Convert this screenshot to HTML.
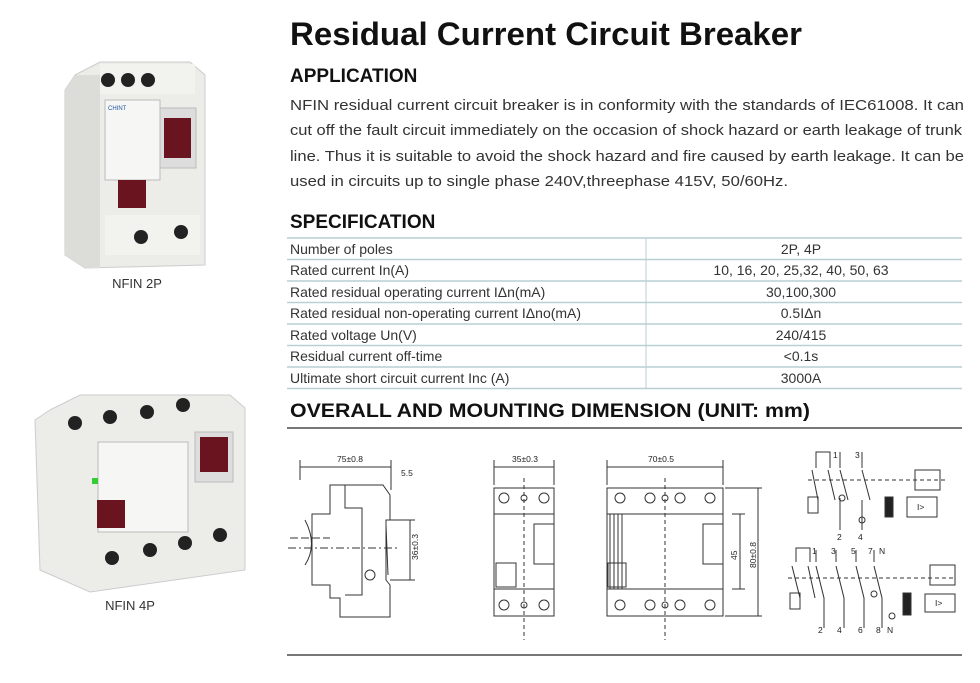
<!DOCTYPE html>
<html><head><meta charset="utf-8"><style>
html,body{margin:0;padding:0;background:#fff;width:980px;height:683px;overflow:hidden}
svg text{font-family:"Liberation Sans",sans-serif}
</style></head><body>
<svg width="980" height="683" viewBox="0 0 980 683" xmlns="http://www.w3.org/2000/svg">
<rect width="980" height="683" fill="#fff"/>
<text x="290" y="45" font-size="32" font-weight="bold" fill="#111" textLength="512" lengthAdjust="spacingAndGlyphs">Residual Current Circuit Breaker</text>
<text x="290" y="82" font-size="19" font-weight="bold" fill="#111">APPLICATION</text>
<g font-size="14.5" fill="#333">
<text x="290" y="110" textLength="674" lengthAdjust="spacingAndGlyphs">NFIN residual current circuit breaker is in conformity with the standards of IEC61008. It can</text>
<text x="290" y="135" textLength="672" lengthAdjust="spacingAndGlyphs">cut off the fault circuit immediately on the occasion of shock hazard or earth leakage of trunk</text>
<text x="290" y="161" textLength="674" lengthAdjust="spacingAndGlyphs">line. Thus it is suitable to avoid the shock hazard and fire caused by earth leakage.  It can be</text>
<text x="290" y="186" textLength="498" lengthAdjust="spacingAndGlyphs">used in circuits up to single phase 240V,threephase 415V, 50/60Hz.</text>
</g>
<text x="290" y="228" font-size="19" font-weight="bold" fill="#111">SPECIFICATION</text>
<g stroke="#b9cfd6" stroke-width="1.5">
<line x1="287" y1="238" x2="962" y2="238"/>
<line x1="287" y1="259.5" x2="962" y2="259.5"/>
<line x1="287" y1="281" x2="962" y2="281"/>
<line x1="287" y1="302.5" x2="962" y2="302.5"/>
<line x1="287" y1="324" x2="962" y2="324"/>
<line x1="287" y1="345.5" x2="962" y2="345.5"/>
<line x1="287" y1="367" x2="962" y2="367"/>
<line x1="287" y1="388.5" x2="962" y2="388.5"/>
<line x1="646" y1="238" x2="646" y2="388" stroke-width="1"/>
</g>
<g font-size="14" fill="#333">
<text x="290" y="254">Number of poles</text>
<text x="290" y="275">Rated current In(A)</text>
<text x="290" y="297">Rated residual operating current IΔn(mA)</text>
<text x="290" y="318">Rated residual non-operating current IΔno(mA)</text>
<text x="290" y="340">Rated voltage Un(V)</text>
<text x="290" y="361">Residual current off-time</text>
<text x="290" y="383">Ultimate short circuit current Inc (A)</text>
</g>
<g font-size="14" fill="#333" text-anchor="middle">
<text x="801" y="254">2P, 4P</text>
<text x="801" y="275">10, 16, 20, 25,32, 40, 50, 63</text>
<text x="801" y="297">30,100,300</text>
<text x="801" y="318">0.5IΔn</text>
<text x="801" y="340">240/415</text>
<text x="801" y="361">&lt;0.1s</text>
<text x="801" y="383">3000A</text>
</g>
<text x="290" y="417" font-size="19" font-weight="bold" fill="#111" textLength="520" lengthAdjust="spacingAndGlyphs">OVERALL AND MOUNTING DIMENSION (UNIT: mm)</text>
<line x1="287" y1="428" x2="962" y2="428" stroke="#777" stroke-width="2"/>
<line x1="287" y1="655" x2="962" y2="655" stroke="#777" stroke-width="2"/>

<!-- 2P product -->
<g>
<polygon points="75,75 100,62 190,62 205,75 205,265 85,268 65,255 65,90" fill="#ecece9" stroke="#ccc"/>
<polygon points="65,90 75,75 100,75 100,268 85,268 65,255" fill="#dcdcd8"/>
<rect x="100" y="64" width="95" height="30" fill="#f2f2ef"/>
<circle cx="108" cy="80" r="7" fill="#222"/><circle cx="128" cy="80" r="7" fill="#222"/><circle cx="148" cy="80" r="7" fill="#222"/>
<rect x="105" y="100" width="55" height="80" fill="#f6f6f4" stroke="#bbb"/>
<text x="108" y="110" font-size="6" fill="#2255aa">CHINT</text>
<rect x="160" y="108" width="36" height="60" fill="#ddd" stroke="#bbb"/>
<rect x="164" y="118" width="27" height="40" fill="#6a1420"/>
<rect x="118" y="180" width="28" height="28" fill="#6a1420"/>
<rect x="105" y="215" width="95" height="40" fill="#f2f2ef"/>
<circle cx="141" cy="237" r="7" fill="#222"/><circle cx="181" cy="232" r="7" fill="#222"/>
</g>
<text x="137" y="288" font-size="13" fill="#333" text-anchor="middle">NFIN 2P</text>

<!-- 4P product -->
<g>
<polygon points="50,410 80,395 230,395 245,408 245,570 90,592 40,570 35,420" fill="#ecece9" stroke="#ccc"/>
<circle cx="75" cy="423" r="7" fill="#222"/><circle cx="110" cy="417" r="7" fill="#222"/><circle cx="147" cy="412" r="7" fill="#222"/><circle cx="183" cy="405" r="7" fill="#222"/>
<rect x="98" y="442" width="90" height="90" fill="#f6f6f4" stroke="#bbb"/>
<rect x="195" y="432" width="38" height="50" fill="#ddd" stroke="#bbb"/>
<rect x="200" y="437" width="28" height="35" fill="#6a1420"/>
<rect x="97" y="500" width="28" height="28" fill="#6a1420"/>
<rect x="92" y="478" width="6" height="6" fill="#3c3"/>
<circle cx="112" cy="558" r="7" fill="#222"/><circle cx="150" cy="550" r="7" fill="#222"/><circle cx="185" cy="543" r="7" fill="#222"/><circle cx="220" cy="535" r="7" fill="#222"/>
</g>
<text x="130" y="610" font-size="13" fill="#333" text-anchor="middle">NFIN 4P</text>

<g stroke="#333" stroke-width="1" fill="none" font-size="8">
<!-- side view -->
<line x1="300" y1="467" x2="391" y2="467"/><line x1="300" y1="460" x2="300" y2="480"/><line x1="391" y1="460" x2="391" y2="490"/>
<polygon points="330,485 383,485 390,495 390,520 386,520 386,580 390,585 390,617 340,617 340,598 330,598 330,585 312,585 312,514 330,514"/>
<polyline points="345,485 345,508 362,508 362,595 345,595"/>
<line x1="386" y1="525" x2="388" y2="575"/>
<line x1="288" y1="548" x2="400" y2="548" stroke-dasharray="8,3,2,3"/>
<line x1="290" y1="538" x2="330" y2="538" stroke-dasharray="8,3"/>
<path d="M305,520 Q318,545 305,565"/>
<circle cx="370" cy="575" r="5"/>
<line x1="410" y1="520" x2="410" y2="580"/>
<line x1="390" y1="520" x2="415" y2="520"/><line x1="390" y1="580" x2="415" y2="580"/>
<!-- 2P front -->
<rect x="494" y="488" width="60" height="128"/>
<line x1="494" y1="514" x2="554" y2="514"/><line x1="494" y1="589" x2="554" y2="589"/>
<line x1="494" y1="467" x2="554" y2="467"/><line x1="494" y1="460" x2="494" y2="485"/><line x1="554" y1="460" x2="554" y2="485"/>
<circle cx="504" cy="498" r="5"/><circle cx="524" cy="498" r="3"/><circle cx="544" cy="498" r="5"/>
<circle cx="504" cy="605" r="5"/><circle cx="524" cy="605" r="3"/><circle cx="544" cy="605" r="5"/>
<rect x="534" y="524" width="20" height="40"/><rect x="496" y="563" width="20" height="24"/>
<line x1="524" y1="478" x2="524" y2="640" stroke-dasharray="4,3"/>
<!-- 4P front -->
<rect x="607" y="488" width="116" height="128"/>
<line x1="607" y1="514" x2="723" y2="514"/><line x1="607" y1="589" x2="723" y2="589"/>
<line x1="607" y1="467" x2="723" y2="467"/><line x1="607" y1="460" x2="607" y2="485"/><line x1="723" y1="460" x2="723" y2="485"/>
<circle cx="620" cy="498" r="5"/><circle cx="650" cy="498" r="5"/><circle cx="665" cy="498" r="3"/><circle cx="680" cy="498" r="5"/><circle cx="710" cy="498" r="5"/>
<circle cx="620" cy="605" r="5"/><circle cx="650" cy="605" r="5"/><circle cx="665" cy="605" r="3"/><circle cx="680" cy="605" r="5"/><circle cx="710" cy="605" r="5"/>
<rect x="703" y="524" width="20" height="40"/><rect x="608" y="563" width="18" height="24"/>
<line x1="610" y1="514" x2="610" y2="589"/><line x1="614" y1="514" x2="614" y2="589"/><line x1="618" y1="514" x2="618" y2="589"/><line x1="622" y1="514" x2="622" y2="589"/>
<line x1="665" y1="478" x2="665" y2="640" stroke-dasharray="4,3"/>
<line x1="740" y1="514" x2="740" y2="589"/><line x1="732" y1="514" x2="745" y2="514"/><line x1="732" y1="589" x2="745" y2="589"/>
<line x1="758" y1="488" x2="758" y2="616"/><line x1="725" y1="488" x2="762" y2="488"/><line x1="725" y1="616" x2="762" y2="616"/>
<!-- schematic 2P -->
<polyline points="816,468 816,452 830,452 830,468"/>
<line x1="840" y1="452" x2="840" y2="468"/><line x1="862" y1="452" x2="862" y2="468"/>
<line x1="812" y1="470" x2="818" y2="500"/><line x1="828" y1="470" x2="835" y2="500"/><line x1="840" y1="470" x2="848" y2="500"/><line x1="862" y1="470" x2="870" y2="500"/>
<line x1="808" y1="480" x2="945" y2="480" stroke-dasharray="4,3"/>
<rect x="808" y="497" width="10" height="16"/>
<circle cx="842" cy="498" r="3"/><circle cx="862" cy="520" r="3"/>
<line x1="840" y1="498" x2="840" y2="530"/><line x1="862" y1="500" x2="862" y2="530"/>
<rect x="885" y="497" width="8" height="20" fill="#222"/>
<rect x="907" y="497" width="30" height="20"/>
<rect x="915" y="470" width="25" height="20"/>
<!-- schematic 4P -->
<polyline points="796,562 796,548 810,548 810,562"/>
<line x1="816" y1="550" x2="816" y2="562"/><line x1="836" y1="550" x2="836" y2="562"/><line x1="856" y1="550" x2="856" y2="562"/><line x1="874" y1="550" x2="874" y2="562"/>
<line x1="792" y1="566" x2="800" y2="598"/><line x1="808" y1="566" x2="815" y2="598"/><line x1="816" y1="566" x2="824" y2="598"/><line x1="836" y1="566" x2="844" y2="598"/><line x1="856" y1="566" x2="864" y2="598"/><line x1="874" y1="566" x2="882" y2="598"/>
<line x1="788" y1="578" x2="955" y2="578" stroke-dasharray="4,3"/>
<rect x="790" y="593" width="10" height="16"/>
<circle cx="874" cy="594" r="3"/><circle cx="892" cy="616" r="3"/>
<line x1="824" y1="598" x2="824" y2="628"/><line x1="844" y1="598" x2="844" y2="628"/><line x1="864" y1="598" x2="864" y2="628"/><line x1="882" y1="598" x2="882" y2="628"/>
<rect x="903" y="593" width="8" height="22" fill="#222"/>
<rect x="925" y="594" width="30" height="18"/>
<rect x="930" y="565" width="25" height="20"/>
</g>
<g font-size="8.5" fill="#222">
<text x="337" y="462">75±0.8</text>
<text x="401" y="476">5.5</text>
<text x="512" y="462">35±0.3</text>
<text x="648" y="462">70±0.5</text>
<text x="418" y="560" transform="rotate(-90 418 560)">36±0.3</text>
<text x="737" y="560" transform="rotate(-90 737 560)">45</text>
<text x="756" y="568" transform="rotate(-90 756 568)">80±0.8</text>
<text x="917" y="510">I&gt;</text><text x="935" y="606">I&gt;</text>
<text x="833" y="458">1</text><text x="855" y="458">3</text>
<text x="837" y="540">2</text><text x="858" y="540">4</text>
<text x="812" y="554">1</text><text x="831" y="554">3</text><text x="851" y="554">5</text><text x="868" y="554">7</text><text x="879" y="554">N</text>
<text x="818" y="633">2</text><text x="837" y="633">4</text><text x="858" y="633">6</text><text x="876" y="633">8</text><text x="887" y="633">N</text>
</g>
</svg>
</body></html>
